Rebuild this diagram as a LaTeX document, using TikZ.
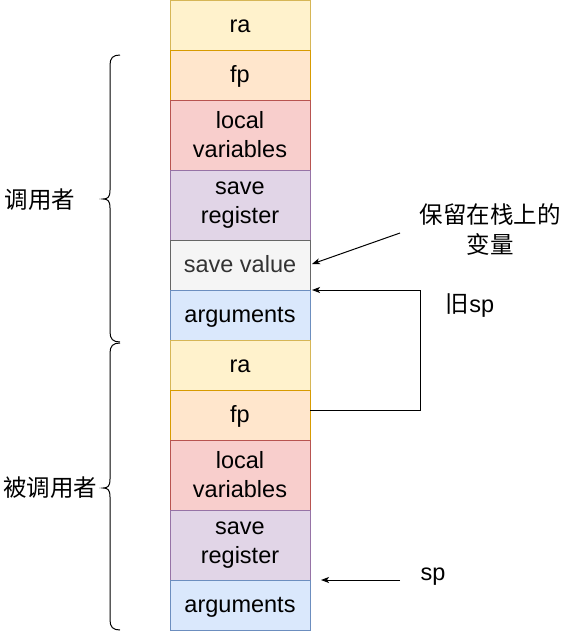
\documentclass[tikz,border=0pt]{standalone}
\usepackage{fontspec}
\setmainfont{Liberation Sans}
\newfontfamily\cjk{Noto Sans CJK SC}
\usetikzlibrary{arrows.meta}
\definecolor{yf}{HTML}{FFF2CC}\definecolor{yd}{HTML}{D6B656}
\definecolor{of}{HTML}{FFE6CC}\definecolor{od}{HTML}{D79B00}
\definecolor{rf}{HTML}{F8CECC}\definecolor{rd}{HTML}{B85450}
\definecolor{pf}{HTML}{E1D5E7}\definecolor{pd}{HTML}{9673A6}
\definecolor{gf}{HTML}{F5F5F5}\definecolor{gd}{HTML}{666666}\definecolor{gt}{HTML}{333333}
\definecolor{bf}{HTML}{DAE8FC}\definecolor{bd}{HTML}{6C8EBF}
\tikzset{
  cell/.style={draw, line width=1pt, minimum width=140pt, inner sep=0pt, outer sep=0pt, align=center, font=\fontsize{23.5}{29}\selectfont, anchor=north west},
  c50/.style={cell, minimum height=50pt, text height=20pt, text depth=5pt},
  c70/.style={cell, minimum height=70pt},
  lbl/.style={font=\fontsize{23.5}{29}\selectfont, align=center, inner sep=0pt, text height=20pt, text depth=5pt},
  clbl/.style={font=\cjk\fontsize{23.5}{30}\selectfont, align=center, inner sep=0pt},
  arr/.style={line width=1pt, -{Stealth[length=8pt,width=6pt,inset=2pt]}},
  brace/.style={line width=1pt}
}
\begin{document}
\begin{tikzpicture}[x=1pt,y=-1pt]
\useasboundingbox (0,0) rectangle (570,632);
\node[c50, fill=yf, draw=yd] (ra1) at (170,0) {ra};
\node[c50, fill=of, draw=od] (fp1) at (170,50) {fp};
\node[c70, fill=rf, draw=rd] (lv1) at (170,100) {local\\variables};
\node[c70, fill=pf, draw=pd] (sr1) at (170,170) {save\\register};
\node[c50, fill=gf, draw=gd, text=gt] (sv) at (170,240) {save value};
\node[c50, fill=bf, draw=bd] (ar1) at (170,290) {arguments};
\node[c50, fill=yf, draw=yd] (ra2) at (170,340) {ra};
\node[c50, fill=of, draw=od] (fp2) at (170,390) {fp};
\node[c70, fill=rf, draw=rd] (lv2) at (170,440) {local\\variables};
\node[c70, fill=pf, draw=pd] (sr2) at (170,510) {save\\register};
\node[c50, fill=bf, draw=bd] (ar2) at (170,580) {arguments};
% braces
\draw[brace] (120,55) .. controls (113,55) and (110,58) .. (110,65) -- (110,190) .. controls (110,197) and (108,199) .. (103,199) .. controls (108,199) and (110,201) .. (110,208) -- (110,332) .. controls (110,339) and (113,342) .. (120,342);
\draw[brace] (120,343) .. controls (113,343) and (110,346) .. (110,353) -- (110,479) .. controls (110,486) and (108,488) .. (103,488) .. controls (108,488) and (110,490) .. (110,497) -- (110,620) .. controls (110,627) and (113,630) .. (120,630);
\node[clbl] (caller) at (40,200) {调用者};
\node[clbl] (callee) at (50,488) {被调用者};
% annotations
\node[clbl] (keep) at (490,230) {保留在栈上的\\变量};
\coordinate (keepS) at (400,233);
\coordinate (svE) at (312,264);
\draw[arr] (keepS) -- (svE);
\node[lbl] (oldsp) at (470,304.5) {{\cjk 旧}sp};
\draw[arr] ([yshift=5pt]fp2.east) -- (420,410) |- ([xshift=2pt]ar1.north east);
\node[lbl] (sp) at (433,572.5) {sp};
\coordinate (spS) at (400,580);
\coordinate (spE) at (321,580);
\draw[arr] (spS) -- (spE);
\end{tikzpicture}
\end{document}
